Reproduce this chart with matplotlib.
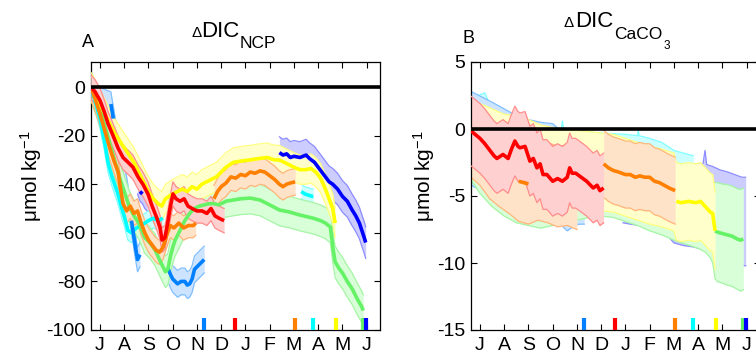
import matplotlib
matplotlib.use("Agg")
import matplotlib.pyplot as plt
import numpy as np

plt.rcParams['font.family'] = ['Liberation Sans', 'DejaVu Sans']
plt.rcParams['mathtext.fontset'] = 'custom'
plt.rcParams['mathtext.rm'] = 'Liberation Sans'
plt.rcParams['mathtext.it'] = 'Liberation Sans:italic'

# ---------------- data ----------------
months = ['J', 'A', 'S', 'O', 'N', 'D', 'J', 'F', 'M', 'A', 'M', 'J']

# Panel A: Delta DIC_NCP (umol/kg); x in months from June
a_red_x = [-0.37, -0.2, 0, 0.17, 0.33, 0.54, 0.74, 0.95, 1.16, 1.36, 1.57, 1.77, 1.98, 2.15, 2.35, 2.48, 2.56,
           2.68, 2.81, 2.89, 3.01, 3.14, 3.30, 3.47, 3.63, 3.80, 4.00, 4.21, 4.41, 4.58, 4.74, 4.91, 5.12]
a_red_y = [0, -2, -5.5, -10, -15, -20, -25, -29, -31, -33, -37, -40, -44, -49, -54, -58, -63,
           -62, -55, -50, -44, -46, -47, -46, -49, -50, -51, -51, -52, -50, -53, -54, -55]

a_orange1_x = [-0.37, -0.2, 0, 0.2, 0.4, 0.6, 0.75, 0.85, 0.95, 1.1, 1.25, 1.4, 1.55, 1.7, 1.85, 2.0, 2.15, 2.3,
               2.45, 2.6, 2.75, 2.9, 3.05, 3.25, 3.45, 3.65, 3.85, 3.95]
a_orange1_y = [0, -5, -11, -18, -25, -31, -35, -42, -48, -51, -49, -52, -51, -56, -60, -63, -65, -67,
               -68, -66, -61, -57, -58, -56, -58, -57, -57, -56]
a_orange2_x = [4.7, 4.85, 5.0, 5.2, 5.4, 5.6, 5.8, 6.0, 6.2, 6.4, 6.6, 6.8, 7.0, 7.2, 7.4, 7.55, 7.7, 7.85, 8.05]
a_orange2_y = [-46, -43, -41, -39.5, -37, -37.5, -36, -36.5, -35, -35.5, -34.5, -35, -36.5, -38, -40, -41, -40,
               -39.5, -39]

a_yellow_x = [-0.37, -0.2, 0, 0.2, 0.4, 0.6, 0.8, 1.0, 1.2, 1.4, 1.6, 1.8, 2.0, 2.2, 2.4, 2.55, 2.7, 2.85, 3.0,
              3.2, 3.4, 3.6, 3.8, 4.0, 4.2, 4.4, 4.6, 4.8, 5.0, 5.2, 5.5, 5.8, 6.2, 6.5, 6.9, 7.2, 7.4, 7.6, 7.8,
              8.0, 8.25, 8.5, 8.7, 8.9, 9.1, 9.3, 9.45, 9.6, 9.7]
a_yellow_y = [0, -3, -7, -11, -15, -19, -22, -25, -28, -31, -35, -39, -43, -46, -48, -49, -46, -45, -44,
              -43, -42, -43, -41, -42, -40, -39, -38, -37, -35, -33, -31, -30.5, -30, -29.5, -29, -30, -30, -31, -32,
              -33, -34, -34, -33.5, -35, -37.5, -42, -46, -50, -56]

a_green_x = [-0.37, -0.2, 0, 0.2, 0.4, 0.6, 0.8, 1.0, 1.2, 1.4, 1.6, 1.85, 2.05, 2.27, 2.5, 2.7, 2.8, 2.9, 3.0,
             3.1, 3.3, 3.5, 3.7, 3.9, 4.1, 4.3, 4.5, 4.7, 4.9, 5.2, 5.5, 5.8, 6.2, 6.6, 7.0, 7.4, 7.8, 8.25, 8.8,
             9.1, 9.3, 9.5, 9.57, 9.62, 9.7, 9.85, 10.0, 10.2, 10.4, 10.6, 10.8, 10.86]
a_green_y = [0, -4, -9, -16, -23, -30, -37, -43, -49, -53, -56, -62, -64, -67, -72, -76, -75, -70, -66,
             -63, -59, -55, -52, -50, -49, -48.5, -48, -48, -48.5, -47, -46.5, -46, -45.7, -46.5, -48.5, -50.6,
             -51.4, -52.7, -54, -55, -56, -57.6, -63, -67, -72, -74.5, -76.5, -80, -83, -87, -90.5, -92]

a_cyan1_x = [-0.37, -0.2, 0, 0.2, 0.33, 0.5, 0.74, 0.9, 1.0, 1.15, 1.3, 1.5, 1.7, 1.85, 2.0, 2.2, 2.4, 2.6]
a_cyan1_y = [0, -6, -13, -23, -31, -37, -44, -50, -53, -59, -60, -58, -57, -56, -55, -54, -55, -54]
a_cyan2_x = [8.3, 8.45, 8.6, 8.75, 8.8]
a_cyan2_y = [-43, -44, -44.5, -45, -45]

a_lblue1_x = [-0.37, -0.2, 0, 0.2, 0.45, 0.5, 0.55, 0.7, 0.9, 1.1, 1.3, 1.45, 1.55, 1.65]
a_lblue1_y = [0, -3, -5, -6, -7, -10, -13, -22, -32, -42, -55, -65, -71, -69]
a_lblue2_x = [2.8, 2.9, 3.0, 3.1, 3.2, 3.35, 3.5, 3.6, 3.7, 3.8, 3.9, 4.0, 4.1, 4.2, 4.3]
a_lblue2_y = [-74.5, -77, -79, -80, -81, -80, -80, -81.5, -81, -79, -75, -74, -73, -72, -71]

a_blue1_x = [1.55, 1.65, 1.75, 1.85, 1.95]
a_blue1_y = [-40, -43, -44, -46, -47]
a_blue2_x = [7.4, 7.55, 7.7, 7.85, 8.0, 8.25, 8.5, 8.65, 8.85, 9.0, 9.15, 9.3, 9.45, 9.6, 9.8, 10.0, 10.2, 10.4,
             10.55, 10.7, 10.8, 10.9, 10.96]
a_blue2_y = [-27, -28, -27.5, -29, -28.5, -29, -28, -29.5, -31, -33, -35, -37, -39, -40, -42, -45, -47, -50.6,
             -53, -56, -59, -62, -64]

# Panel B: Delta DIC_CaCO3
b_red_x = [-0.37, -0.2, 0, 0.2, 0.41, 0.58, 0.7, 0.95, 1.16, 1.3, 1.44, 1.57, 1.65, 1.86, 2.06, 2.2, 2.35, 2.48,
           2.6, 2.76, 3.0, 3.2, 3.4, 3.6, 3.7, 3.8, 3.95, 4.1, 4.4, 4.67, 4.83, 4.95, 5.1]
b_red_y = [-0.15, -0.4, -0.7, -1.1, -1.6, -2.0, -2.2, -1.9, -2.2, -1.5, -0.9, -1.3, -1.4, -1.3, -2.4, -2.2, -2.9,
           -2.6, -3.4, -3.4, -3.9, -3.7, -3.9, -3.6, -2.9, -3.3, -3.3, -3.5, -3.9, -4.4, -4.2, -4.6, -4.4]

b_orange1_x = [-0.37, 0, 0.4, 0.8, 1.2, 1.6, 2.0, 2.4, 2.8, 3.2, 3.6, 4.0]
b_orange1_y = [-0.6, -1.2, -2.2, -2.8, -3.3, -3.9, -4.1, -3.8, -4.0, -4.3, -4.2, -4.5]
b_orange2_x = [5.1, 5.3, 5.5, 5.7, 6.0, 6.2, 6.4, 6.6, 6.8, 7.0, 7.2, 7.4, 7.6, 7.8, 8.05]
b_orange2_y = [-2.6, -2.9, -3.1, -3.2, -3.4, -3.4, -3.6, -3.5, -3.6, -3.6, -3.9, -4.0, -4.2, -4.4, -4.6]

b_yellow_x = [-0.37, 0, 0.5, 1.0, 1.5, 2.0, 2.5, 3.0, 3.5, 4.0, 4.5, 5.0, 5.5, 6.0, 6.5, 7.0, 7.5, 8.0, 8.1,
              8.3, 8.6, 8.9, 9.1, 9.35, 9.5, 9.6, 9.65, 9.7]
b_yellow_y = [-0.8, -1.0, -1.4, -1.8, -1.9, -2.2, -2.6, -2.8, -3.0, -3.0, -3.1, -3.2, -3.3, -3.6, -3.9, -4.2, -4.4,
              -4.7, -5.4, -5.5, -5.4, -5.5, -5.4, -5.9, -6.2, -6.3, -7.0, -7.6]

b_green_x = [-0.37, 0, 0.5, 1.0, 1.5, 2.0, 2.5, 3.0, 3.5, 4.0, 4.5, 5.0, 5.5, 6.0, 6.5, 7.0, 7.5, 8.0, 8.5, 9.0,
             9.3, 9.5, 9.6, 9.7, 9.8, 10.0, 10.2, 10.4, 10.6, 10.75, 10.86]
b_green_y = [-1.15, -1.9, -2.75, -3.5, -4.0, -4.2, -4.35, -4.25, -4.15, -4.05, -4.0, -4.05, -4.2, -4.4, -4.6,
             -4.9, -5.15, -5.5, -5.8, -6.1, -6.35, -6.65, -6.95, -7.6, -7.7, -7.8, -7.9, -8.0, -8.2, -8.3, -8.2]
b_green_hw = [2.65, 2.9, 3.05, 3.0, 3.0, 3.0, 3.05, 2.95, 2.85, 2.75, 2.6, 2.45, 2.4, 2.5, 2.6, 2.7, 2.75, 2.8,
              2.8, 2.8, 2.85, 2.95, 3.05, 3.6, 3.7, 3.7, 3.75, 3.75, 3.75, 3.8, 3.8]

b_lblue_x = [-0.37, 0.5, 1.0, 1.5, 2.0, 2.5, 3.0, 3.3, 3.6, 3.9, 4.1, 4.3]
b_lblue_y = [-0.7, -1.5, -2.0, -2.5, -2.8, -3.0, -3.1, -3.6, -4.1, -3.7, -3.6, -3.6]

b_cyan_x = [-0.37, 0.2, 0.5, 1.0, 1.5, 2.0, 2.5, 3.0, 3.35, 3.4, 3.45, 4.0, 5.0, 6.0, 6.5, 6.53, 6.56, 7.0, 7.5,
            8.0, 8.4, 8.8]
b_cyan_y = [-0.6, -0.2, -1.5, -2.0, -2.4, -2.8, -3.0, -3.0, -3.0, -2.3, -3.0, -3.1, -3.2, -3.3, -3.4, -2.9, -3.4,
            -3.6, -3.9, -4.5, -4.7, -4.9]

b_blue_x = [5.9, 6.2, 6.6, 7.0, 7.3, 7.6, 8.0, 8.4, 8.8, 9.2, 9.28, 9.35, 9.6, 9.9, 10.2, 10.5, 10.8, 10.96]
b_blue_y = [-5.0, -5.1, -5.2, -5.3, -5.4, -5.5, -5.45, -5.6, -5.7, -5.8, -5.3, -5.85, -6.0, -6.3, -6.5, -6.7,
            -6.9, -6.9]
b_blue_hw = [2.0, 2.0, 2.0, 2.1, 2.1, 2.2, 3.05, 3.1, 3.1, 3.2, 3.7, 3.2, 3.2, 3.25, 3.3, 3.3, 3.3, 3.3]

# end-date markers at the bottom of both panels
marker_x = [4.29, 5.57, 8.05, 8.80, 9.74, 10.84, 10.96]
marker_keys = ['lblue', 'red', 'orange', 'cyan', 'yellow', 'green', 'blue']

# ---------------- styles ----------------
LINE = {'red': '#FF0000', 'orange': '#FF8000', 'yellow': '#FFFF00', 'green': '#66F266',
        'cyan': '#00FFFF', 'lblue': '#0080FF', 'blue': '#0000FF'}
FILL = {'red': '#FFD0D0', 'orange': '#FFE3C8', 'yellow': '#FFFFCC', 'green': '#D8FFD8',
        'cyan': '#CCFFFF', 'lblue': '#CCE4FF', 'blue': '#CCCCFF'}
EDGE = {'red': '#FF8C8C', 'orange': '#FFB57A', 'yellow': '#FFFF80', 'green': '#A6F5A6',
        'cyan': '#80FFFF', 'lblue': '#80BFFF', 'blue': '#8C8CFF'}

W, H = 756, 355
fig = plt.figure(figsize=(W / 100, H / 100), dpi=100)


def fx(px):
    return px / W


def fy(py):
    return 1 - py / H


axA = fig.add_axes([fx(91), fy(330), (380 - 91) / W, (330 - 62) / H])
axB = fig.add_axes([fx(471), fy(330), (760 - 471) / W, (330 - 62) / H])


def band(ax, x, y, hw, key, z):
    x = np.asarray(x, float)
    y = np.asarray(y, float)
    hw = np.asarray(hw, float)
    ax.fill_between(x, y - hw, y + hw, color=FILL[key], lw=0, zorder=z)
    ax.plot(x, y + hw, color=EDGE[key], lw=0.9, zorder=z + 0.1)
    ax.plot(x, y - hw, color=EDGE[key], lw=0.9, zorder=z + 0.1)


def line(ax, x, y, key, z, lo=-99, hi=99):
    x = np.asarray(x, float)
    y = np.asarray(y, float)
    m = (x >= lo) & (x <= hi)
    ax.plot(x[m], y[m], color=LINE[key], lw=2.6, zorder=z, solid_capstyle='butt')


# ---------- Panel A ----------
A_series = [
    (a_blue1_x, a_blue1_y, 4.0, 'blue', 1.6, 1.8),
    (a_blue2_x, a_blue2_y, 6.5, 'blue', -1, 12),
    (a_cyan1_x, a_cyan1_y, 4.0, 'cyan', -1, 12),
    (a_cyan2_x, a_cyan2_y, 3.0, 'cyan', -1, 12),
    (a_lblue1_x, a_lblue1_y, 5.0, 'lblue', 1.3, 12),
    (a_lblue2_x, a_lblue2_y, 5.5, 'lblue', -1, 12),
    (a_green_x, a_green_y, 6.5, 'green', -1, 12),
    (a_yellow_x, a_yellow_y, 6.0, 'yellow', -1, 12),
    (a_orange1_x, a_orange1_y, 5.0, 'orange', -1, 12),
    (a_orange2_x, a_orange2_y, 5.5, 'orange', -1, 12),
    (a_red_x, a_red_y, 5.0, 'red', -1, 12),
]
for i, (x, y, hw, k, lo, hi) in enumerate(A_series):
    band(axA, x, y, hw, k, 1 + i * 0.2)
# short isolated light-blue piece near the start
line(axA, a_lblue1_x, a_lblue1_y, 'lblue', 9.9, 0.44, 0.56)
line_order = [2, 3, 4, 5, 6, 7, 8, 9, 0, 1, 10]
for j, i in enumerate(line_order):
    x, y, hw, k, lo, hi = A_series[i]
    line(axA, x, y, k, 10 + j * 0.1, lo, hi)

# ---------- Panel B ----------
B_series = [
    (b_blue_x, b_blue_y, b_blue_hw, 'blue', 10.85, 11),
    (b_cyan_x, b_cyan_y, 2.9, 'cyan', 99, 99),
    (b_lblue_x, b_lblue_y, 3.5, 'lblue', 99, 99),
    (b_green_x, b_green_y, b_green_hw, 'green', 9.68, 11),
    (b_yellow_x, b_yellow_y, 2.9, 'yellow', 8.05, 11),
    (b_orange1_x, b_orange1_y, 3.0, 'orange', 1.55, 2.05),
    (b_orange2_x, b_orange2_y, 2.5, 'orange', -1, 11),
    (b_red_x, b_red_y, 2.6, 'red', -1, 11),
]
for i, (x, y, hw, k, lo, hi) in enumerate(B_series):
    band(axB, x, y, hw, k, 1 + i * 0.2)
for i, (x, y, hw, k, lo, hi) in enumerate(B_series):
    line(axB, x, y, k, 10 + i * 0.1, lo, hi)

# ---------- common axes styling ----------
for ax, ylim, yt in [(axA, (-100, 10.3), [-100, -80, -60, -40, -20, 0]),
                     (axB, (-15, 5), [-15, -10, -5, 0, 5])]:
    ax.axhline(0, color='k', lw=2.6, zorder=20)
    ax.set_xlim(-0.37, 11.55)
    ax.set_ylim(*ylim)
    ax.set_yticks(yt)
    ax.set_yticklabels([str(v) for v in yt])
    ax.set_xticks(range(12))
    ax.set_xticklabels(months)
    ax.tick_params(direction='in', top=True, right=True, length=4, width=0.8, labelsize=14)
    ax.tick_params(axis='x', pad=5)
    ax.tick_params(axis='y', pad=4)
    for s in ax.spines.values():
        s.set_linewidth(0.9)
    trans = ax.get_xaxis_transform()
    for mx, mk in zip(marker_x, marker_keys):
        ax.plot([mx, mx], [0, 0.045], transform=trans, color=LINE[mk], lw=3,
                solid_capstyle='butt', zorder=25, clip_on=False)

# ---------- texts ----------
fig.text(fx(31), fy(176), 'μmol kg$^{-1}$', rotation=90, ha='center', va='center', fontsize=15)
fig.text(fx(424), fy(176), 'μmol kg$^{-1}$', rotation=90, ha='center', va='center', fontsize=15)

fig.text(fx(82), fy(47), 'A', fontsize=13, va='baseline')
fig.text(fx(463), fy(43), 'B', fontsize=13, va='baseline')

fig.text(fx(191), fy(37), 'Δ', fontsize=11, va='baseline')
fig.text(fx(201), fy(37), 'DIC', fontsize=16, va='baseline')
fig.text(fx(240), fy(48), 'NCP', fontsize=12.5, va='baseline')

fig.text(fx(564), fy(27), 'Δ', fontsize=11, va='baseline')
fig.text(fx(575), fy(27), 'DIC', fontsize=16, va='baseline')
fig.text(fx(614), fy(39), 'CaCO', fontsize=12.5, va='baseline')
fig.text(fx(664), fy(49), '3', fontsize=8.5, va='baseline')

fig.savefig('out.png', dpi=100)
